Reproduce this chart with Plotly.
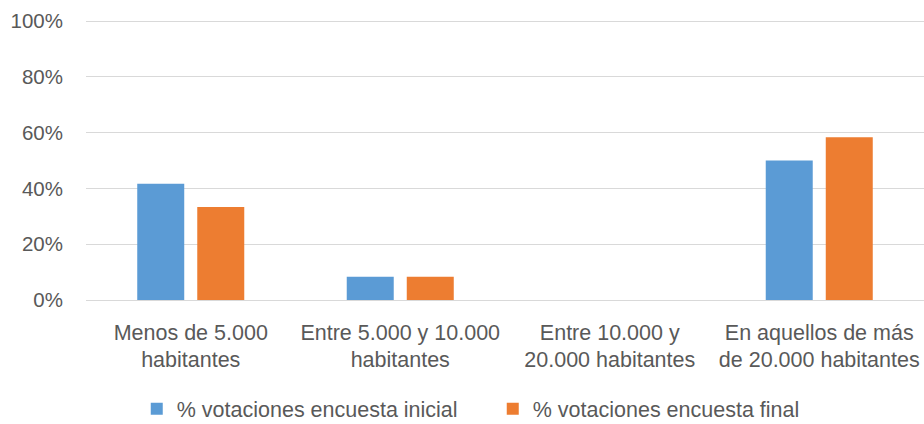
import plotly.graph_objects as go

categories = ["Menos de 5.000<br>habitantes", "Entre 5.000 y 10.000<br>habitantes",
              "Entre 10.000 y<br>20.000 habitantes", "En aquellos de más<br>de 20.000 habitantes"]
inicial = [0.4167, 0.0833, 0.0, 0.50]
final = [0.3333, 0.0833, 0.0, 0.5833]
series_names = ["% votaciones encuesta inicial", "% votaciones encuesta final"]
colors = ["#5B9BD5", "#ED7D31"]

FONT = "Liberation Sans"
FS = 21.5
fig = go.Figure()
for name, vals, c in zip(series_names, [inicial, final], colors):
    fig.add_trace(go.Bar(x=categories, y=vals, name=name, marker=dict(color=c, line_width=0)))

fig.update_layout(
    width=924, height=424,
    margin=dict(l=86, r=0, t=20, b=124, autoexpand=False),
    paper_bgcolor="white", plot_bgcolor="white",
    barmode="group", bargap=0.427, bargroupgap=0.217,
    font=dict(family=FONT, size=FS, color="#595959"),
    showlegend=True,
    legend=dict(orientation="h", xref="container", yref="container",
                x=0.148, xanchor="left", y=0.036, yanchor="middle",
                font=dict(size=FS, color="#595959"), itemwidth=30, entrywidth=311,
                bgcolor="rgba(0,0,0,0)", borderwidth=0, tracegroupgap=0),
    xaxis=dict(showgrid=False, showline=False, ticks="", tickfont=dict(size=FS),
               automargin=False, ticklabelstandoff=17),
    yaxis=dict(range=[0, 1.004], tickvals=[0, 0.2, 0.4, 0.6, 0.8, 1.0], tickformat=".0%",
               showgrid=True, gridcolor="#D9D9D9",
               gridwidth=1, zeroline=True, zerolinecolor="#D9D9D9", zerolinewidth=1,
               ticks="", tickfont=dict(size=20.5), ticklabelstandoff=22, automargin=False),
)
fig.write_html("out.html", config={"displayModeBar": False},
               post_script="document.body.style.margin='0';document.body.style.overflow='hidden';")
